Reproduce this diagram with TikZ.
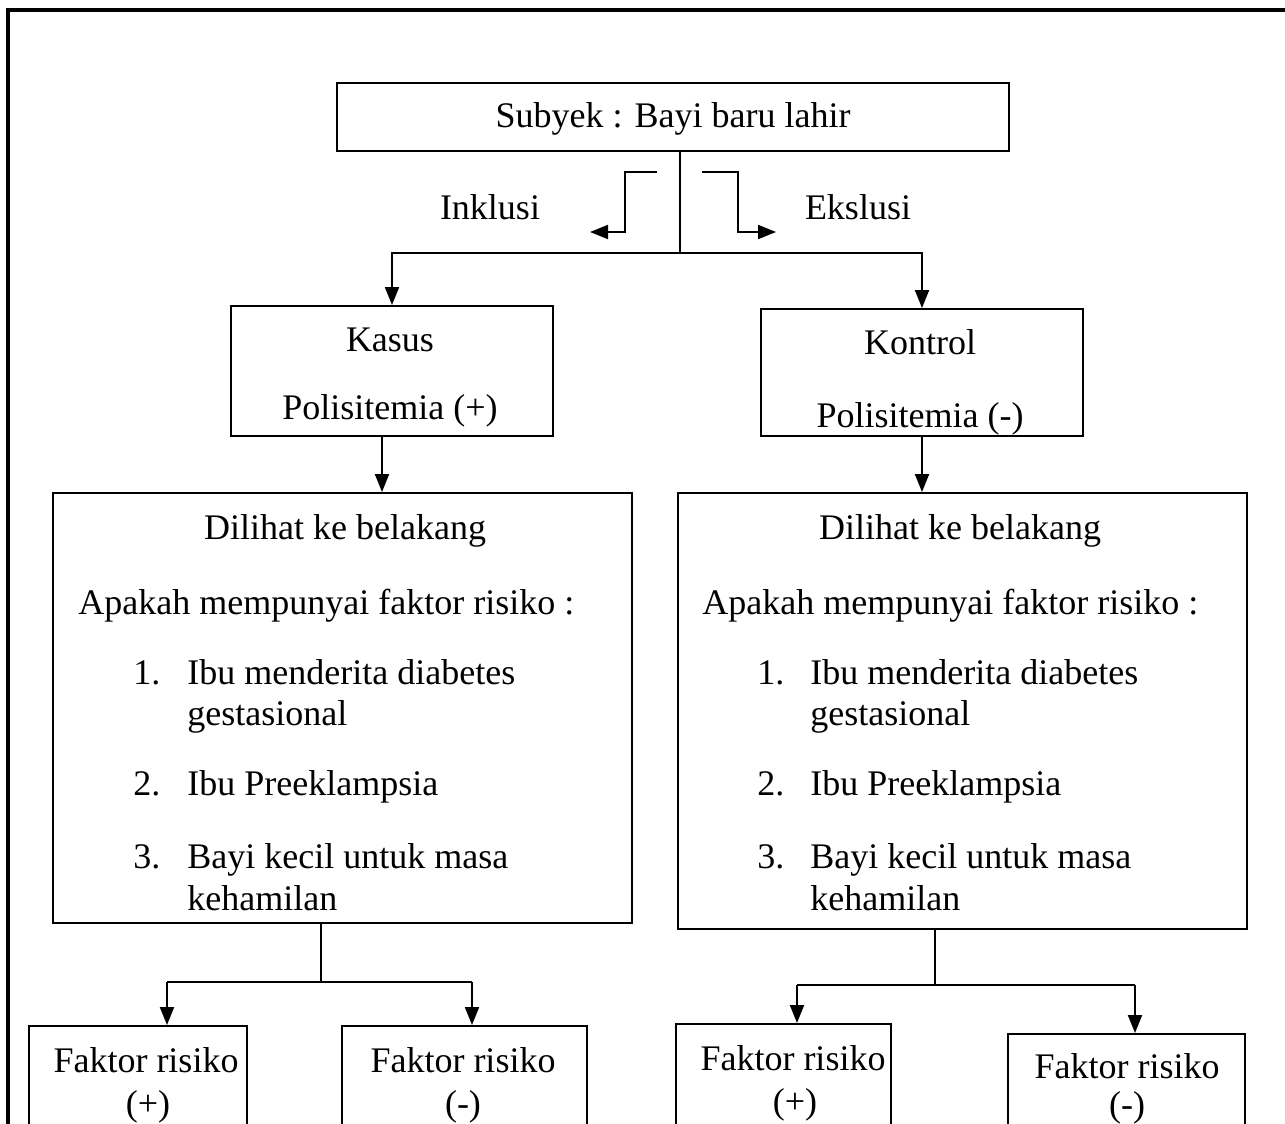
\documentclass[tikz,border=0pt]{standalone}
\usepackage{fontspec}
\setmainfont{Liberation Serif}
\usetikzlibrary{arrows.meta}

\tikzset{
  box/.style={draw, line width=1.2pt, inner sep=0pt, anchor=north},
  txt/.style={inner sep=0pt, anchor=base},
  ltxt/.style={inner sep=0pt, anchor=base west},
  arr/.style={line width=1pt, -{Triangle[length=9pt,width=7pt]}},
  conn/.style={line width=1pt},
  frame/.style={line width=1.8pt}
}

\begin{document}
\begin{tikzpicture}[x=0.5pt, y=-0.5pt, font=\fontsize{18}{20.5}\selectfont]
            \useasboundingbox (0,0) rectangle (1285,1124);
            \clip (0,0) rectangle (1285,1124);

            % Draw outer frame
            \draw[frame] (1290,10) -- (8,10) -- (8,1130);

            % Draw top box
            \node[box, minimum width=336pt, minimum height=34pt] (subyek) at (673,82) {};
            \node[txt] (subyekT) at (673,127) {Subyek : Bayi baru lahir};

            % Draw inclusion / exclusion
            \coordinate (split) at (680,253);
            \coordinate (inA) at (657,172);
            \coordinate (inB) at (625,232);
            \coordinate (inC) at (590,232);
            \coordinate (exA) at (702,172);
            \coordinate (exB) at (738,232);
            \coordinate (exC) at (776,232);
            \node[txt] (inkl) at (490,219) {Inklusi};
            \node[txt] (eksl) at (858,219) {Ekslusi};
            \draw[arr] (inA) -| (inB) -- (inC);
            \draw[arr] (exA) -| (exB) -- (exC);

            % Draw case and control boxes
            \node[box, minimum width=161pt, minimum height=65pt] (kasus) at (392,305) {};
            \node[box, minimum width=161pt, minimum height=63.5pt] (kontrol) at (922,308) {};
            \node[txt] (kasusA) at (390,351) {Kasus};
            \node[txt] (kasusB) at (390,419) {Polisitemia (+)};
            \node[txt] (kontrolA) at (920,354) {Kontrol};
            \node[txt] (kontrolB) at (920,427) {Polisitemia (-)};

            \draw[conn] (split |- subyek.south) -- (split);
            \draw[arr] (split) -| (kasus.north);
            \draw[arr] (split) -| (kontrol.north);

            % Draw look-back boxes
            \node[box, minimum width=289.5pt, minimum height=215pt] (bigL) at (342.5,492) {};
            \node[box, minimum width=284.5pt, minimum height=218pt] (bigR) at (962.5,492) {};

            \node[txt] (lookL) at (345,539) {Dilihat ke belakang};
            \node[ltxt] (askL) at (78,614) {Apakah mempunyai faktor risiko :};
            \node[ltxt] (nL1) at (133,684) {1.};
            \node[ltxt] (iL1) at (187,684) {Ibu menderita diabetes};
            \node[ltxt] (iL1b) at (187,725) {gestasional};
            \node[ltxt] (nL2) at (133,795) {2.};
            \node[ltxt] (iL2) at (187,795) {Ibu Preeklampsia};
            \node[ltxt] (nL3) at (133,868) {3.};
            \node[ltxt] (iL3) at (187,868) {Bayi kecil untuk masa};
            \node[ltxt] (iL3b) at (187,910) {kehamilan};

            \node[txt] (lookR) at (960,539) {Dilihat ke belakang};
            \node[ltxt] (askR) at (702,614) {Apakah mempunyai faktor risiko :};
            \node[ltxt] (nR1) at (757,684) {1.};
            \node[ltxt] (iR1) at (810,684) {Ibu menderita diabetes};
            \node[ltxt] (iR1b) at (810,725) {gestasional};
            \node[ltxt] (nR2) at (757,795) {2.};
            \node[ltxt] (iR2) at (810,795) {Ibu Preeklampsia};
            \node[ltxt] (nR3) at (757,868) {3.};
            \node[ltxt] (iR3) at (810,868) {Bayi kecil untuk masa};
            \node[ltxt] (iR3b) at (810,910) {kehamilan};

            \draw[arr] ([xshift=-5pt]kasus.south) -- ([xshift=-5pt]kasus.south |- bigL.north);
            \draw[arr] (kontrol.south) -- (kontrol.south |- bigR.north);

            % Draw risk factor boxes
            \node[box, minimum width=109pt, minimum height=100pt] (fL1) at (138,1025) {};
            \node[box, minimum width=122.5pt, minimum height=100pt] (fL2) at (464.5,1025) {};
            \node[box, minimum width=107.5pt, minimum height=100pt] (fR1) at (783.5,1023) {};
            \node[box, minimum width=118.5pt, minimum height=100pt] (fR2) at (1126.5,1033) {};

            \node[txt] (fL1A) at (146,1072) {Faktor risiko};
            \node[txt] (fL1B) at (148,1115) {(+)};
            \node[txt] (fL2A) at (463,1072) {Faktor risiko};
            \node[txt] (fL2B) at (463,1115) {(-)};
            \node[txt] (fR1A) at (793,1070) {Faktor risiko};
            \node[txt] (fR1B) at (795,1113) {(+)};
            \node[txt] (fR2A) at (1127,1078) {Faktor risiko};
            \node[txt] (fR2B) at (1127,1116) {(-)};

            \coordinate (splitL) at (321,982);
            \coordinate (aL1) at (167,982);
            \coordinate (aL2) at (472,982);
            \coordinate (splitR) at (935,985);
            \coordinate (aR1) at (797,985);
            \coordinate (aR2) at (1135,985);

            \draw[conn] (splitL |- bigL.south) -- (splitL);
            \draw[conn] (aL1) -- (aL2);
            \draw[arr] (aL1) -- (aL1 |- fL1.north);
            \draw[arr] (aL2) -- (aL2 |- fL2.north);

            \draw[conn] (splitR |- bigR.south) -- (splitR);
            \draw[conn] (aR1) -- (aR2);
            \draw[arr] (aR1) -- (aR1 |- fR1.north);
            \draw[arr] (aR2) -- (aR2 |- fR2.north);
\end{tikzpicture}
\end{document}
